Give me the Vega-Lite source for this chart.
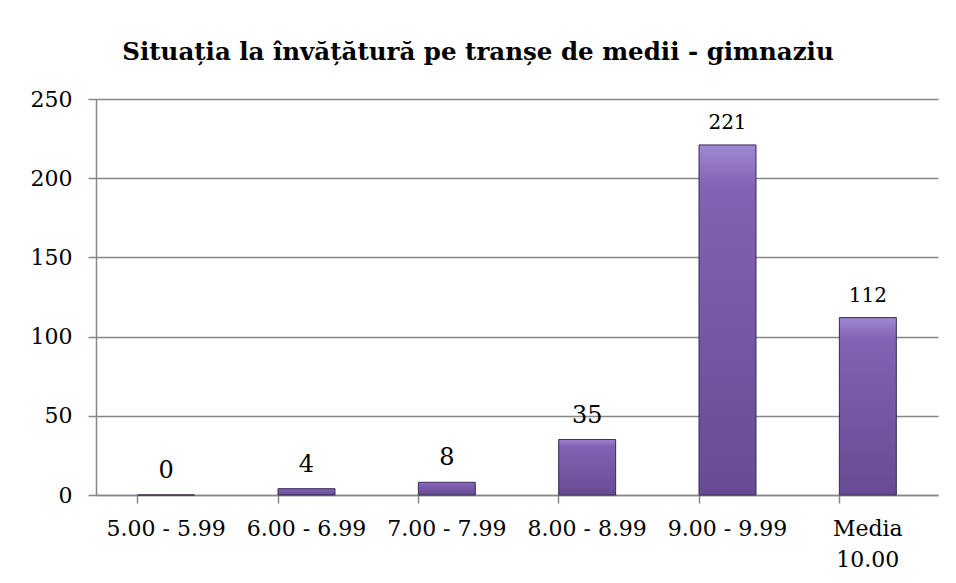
{
  "$schema": "https://vega.github.io/schema/vega-lite/v6.json",
  "autosize": "none",
  "width": 842,
  "height": 396,
  "padding": {"left": 96, "top": 99, "right": 18, "bottom": 88},
  "background": "white",
  "title": {
    "text": "Situația la învățătură pe tranșe de medii - gimnaziu",
    "font": "DejaVu Serif",
    "fontSize": 24.5,
    "fontWeight": "bold",
    "color": "#000000",
    "anchor": "middle",
    "frame": "group",
    "dx": -39,
    "offset": 23
  },
  "data": {
    "values": [
      {"interval": "5.00 - 5.99", "count": 0},
      {"interval": "6.00 - 6.99", "count": 4},
      {"interval": "7.00 - 7.99", "count": 8},
      {"interval": "8.00 - 8.99", "count": 35},
      {"interval": "9.00 - 9.99", "count": 221},
      {"interval": "Media 10.00", "count": 112}
    ]
  },
  "encoding": {
    "x": {
      "field": "interval",
      "type": "nominal",
      "sort": null,
      "scale": {"paddingInner": 0.594, "paddingOuter": 0.297},
      "axis": {
        "title": null,
        "labelAngle": 0,
        "labelFont": "DejaVu Serif",
        "labelFontSize": 22,
        "labelColor": "#000000",
        "labelPadding": 15,
        "labelLineHeight": 31,
        "labelExpr": "datum.value == 'Media 10.00' ? ['Media', '10.00'] : datum.value",
        "bandPosition": 0,
        "tickSize": 8,
        "tickColor": "#868686",
        "domainColor": "#868686",
        "domainWidth": 1.5,
        "tickWidth": 1.5,
        "grid": false
      }
    },
    "y": {
      "field": "count",
      "type": "quantitative",
      "scale": {"domain": [0, 250], "nice": false},
      "axis": {
        "title": null,
        "values": [0, 50, 100, 150, 200, 250],
        "labelFont": "DejaVu Serif",
        "labelFontSize": 22,
        "labelColor": "#000000",
        "labelPadding": 16,
        "tickSize": 8,
        "tickColor": "#868686",
        "tickWidth": 1.5,
        "domainColor": "#868686",
        "domainWidth": 1.5,
        "grid": true,
        "gridColor": "#868686",
        "gridWidth": 1.5
      }
    }
  },
  "layer": [
    {
      "mark": {
        "type": "bar",
        "stroke": "#3a2a55",
        "strokeWidth": 1,
        "color": {
          "gradient": "linear",
          "x1": 0, "y1": 0, "x2": 0, "y2": 1,
          "stops": [
            {"offset": 0, "color": "#a088d4"},
            {"offset": 0.12, "color": "#8262b4"},
            {"offset": 1, "color": "#674b92"}
          ]
        }
      }
    },
    {
      "mark": {
        "type": "text",
        "baseline": "bottom",
        "dy": -12,
        "font": "DejaVu Serif",
        "color": "#000000"
      },
      "encoding": {
        "text": {"field": "count", "type": "quantitative"},
        "size": {
          "condition": {"test": "datum.count > 100", "value": 20},
          "value": 24
        }
      }
    }
  ],
  "config": {
    "view": {"stroke": null}
  }
}
